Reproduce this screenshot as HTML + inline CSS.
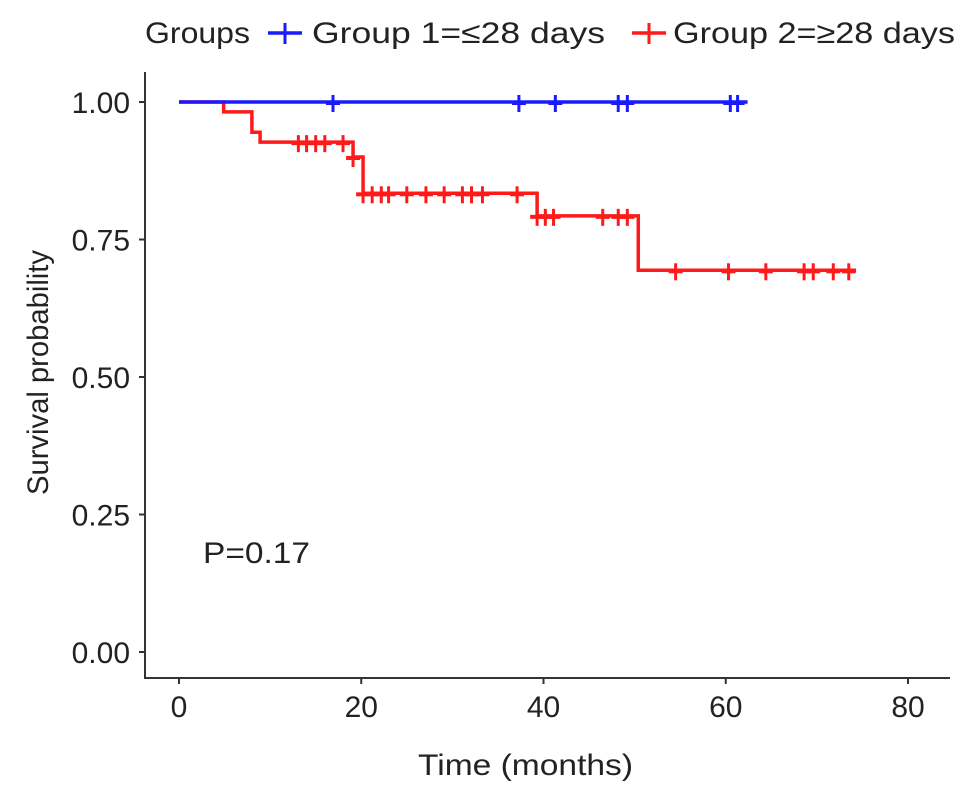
<!DOCTYPE html>
<html><head><meta charset="utf-8"><style>
html,body{margin:0;padding:0;background:#fff;}
svg text{font-family:"Liberation Sans",Arial,sans-serif;fill:#222;}
</style></head><body>
<svg id="chart" width="969" height="787" xmlns="http://www.w3.org/2000/svg">
<g id="legend">
<text x="145" y="43" font-size="30" textLength="105" lengthAdjust="spacingAndGlyphs">Groups</text>
<g>
<line x1="268" y1="33" x2="302" y2="33" stroke="#1a1aff" stroke-width="3.5"/><line x1="285" y1="23" x2="285" y2="44" stroke="#1a1aff" stroke-width="3"/>
<text x="312" y="43" font-size="30" textLength="293" lengthAdjust="spacingAndGlyphs">Group 1=≤28 days</text></g>
<g>
<line x1="632" y1="33" x2="666" y2="33" stroke="#ff1a1a" stroke-width="3.5"/><line x1="649" y1="23" x2="649" y2="44" stroke="#ff1a1a" stroke-width="3"/>
<text x="673" y="43" font-size="30" textLength="282" lengthAdjust="spacingAndGlyphs">Group 2=≥28 days</text></g>
</g>
<g id="axes"></g>
<g id="series"></g>
<text x="203" y="563" font-size="30" textLength="107" lengthAdjust="spacingAndGlyphs">P=0.17</text>
<text x="418" y="775" font-size="30" textLength="215" lengthAdjust="spacingAndGlyphs">Time (months)</text>
<text transform="translate(48,495) rotate(-90)" font-size="30" textLength="245" lengthAdjust="spacingAndGlyphs">Survival probability</text>
</svg>
<script>
const xTicks=[0,20,40,60,80];
const yTicks=[0,0.25,0.5,0.75,1];
const yTickLabels=["0.00","0.25","0.50","0.75","1.00"];
const g1Steps=[[0,1.0]];
const g1End=62.4;
const g1Censor=[16.9,37.3,41.3,48.2,49.2,60.5,61.3];
const g2Steps=[[0,1.0],[4.9,0.982],[8.0,0.945],[8.9,0.927],[19.1,0.90],[20.2,0.834],[39.3,0.793],[50.4,0.694]];
const g2End=74.3;
const g2CensorT=[13.1,14.0,15.0,16.0,18.0,19.1,20.2,21.2,22.2,23.0,25.0,27.1,29.1,31.1,32.1,33.3,37.1,39.3,40.2,41.1,46.5,48.2,49.2,54.5,60.3,64.4,68.6,69.6,71.8,73.5];
const NS="http://www.w3.org/2000/svg";
const X=t=>179+t*(908-179)/80;
const Y=p=>652-p*550;
function mk(tag,attrs,parent){const e=document.createElementNS(NS,tag);for(const k in attrs)e.setAttribute(k,attrs[k]);parent.appendChild(e);return e;}
const axes=document.getElementById('axes');
const yl=mk('line',{x1:145,y1:72,x2:145,y2:679,stroke:'#333','stroke-width':2},axes);


const xl=mk('line',{x1:144,y1:678,x2:950,y2:678,stroke:'#333','stroke-width':2},axes);


xTicks.forEach(t=>{
 mk('line',{x1:X(t),y1:678,x2:X(t),y2:684,stroke:'#333','stroke-width':2},axes);
 const tx=mk('text',{x:X(t),y:717,'font-size':30,'text-anchor':'middle'},axes);tx.textContent=t;
 
 
});
yTicks.forEach((p,i)=>{
 mk('line',{x1:139,y1:Y(p),x2:145,y2:Y(p),stroke:'#333','stroke-width':2},axes);
 const tx=mk('text',{x:130,y:Y(p)+11,'font-size':30,'text-anchor':'end'},axes);tx.textContent=yTickLabels[i];
 
 
});
const series=document.getElementById('series');
function stepAt(steps,t){let p=steps[0][1];steps.forEach(s=>{if(t>=s[0])p=s[1];});return p;}
function draw(steps,end,cens,color,name){
 let d='M'+X(steps[0][0])+','+Y(steps[0][1]);
 for(let i=1;i<steps.length;i++){d+=' H'+X(steps[i][0])+' V'+Y(steps[i][1]);}
 d+=' H'+X(end);
 const path=mk('path',{d:d,fill:'none',stroke:color,'stroke-width':3.5},series);
 
 
 cens.forEach(t=>{
  const y=Y(stepAt(steps,t));
  const c=mk('g',{},series);
  
  
  mk('line',{x1:X(t),y1:y-7,x2:X(t),y2:y+10,stroke:color,'stroke-width':3},c);
  mk('line',{x1:X(t)-7,y1:y+1,x2:X(t)+7,y2:y+1,stroke:color,'stroke-width':4},c);
 });
}
draw(g2Steps,g2End,g2CensorT,'#ff1a1a','group2');
draw(g1Steps,g1End,g1Censor,'#1a1aff','group1');
</script>
</body></html>
